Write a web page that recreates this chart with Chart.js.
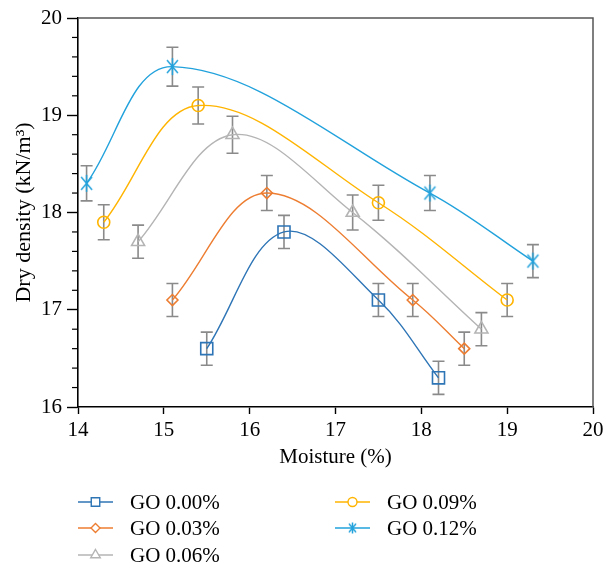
<!DOCTYPE html>
<html>
<head>
<meta charset="utf-8">
<script src="https://cdn.jsdelivr.net/npm/chart.js@4.4.0/dist/chart.umd.min.js"></script>
<style>
  html, body { margin: 0; padding: 0; background: #fff; }
  #wrap { width: 605px; height: 566px; }
</style>
</head>
<body>
<div id="wrap"><canvas id="myChart" width="605" height="566"></canvas></div>
<script>
// Data
const seriesNames = ['GO 0.00%', 'GO 0.03%', 'GO 0.06%', 'GO 0.09%', 'GO 0.12%'];

const moisture000 = [15.5, 16.4, 17.5, 18.2];
const density000  = [16.6, 17.8, 17.1, 16.3];
const error000    = [0.17, 0.17, 0.17, 0.17];

const moisture003 = [15.1, 16.2, 17.9, 18.5];
const density003  = [17.1, 18.2, 17.1, 16.6];
const error003    = [0.17, 0.18, 0.17, 0.17];

const moisture006 = [14.7, 15.8, 17.2, 18.7];
const density006  = [17.7, 18.8, 18.0, 16.8];
const error006    = [0.17, 0.19, 0.18, 0.17];

const moisture009 = [14.3, 15.4, 17.5, 19.0];
const density009  = [17.9, 19.1, 18.1, 17.1];
const error009    = [0.18, 0.19, 0.18, 0.17];

const moisture012 = [14.1, 15.1, 18.1, 19.3];
const density012  = [18.3, 19.5, 18.2, 17.5];
const error012    = [0.18, 0.2, 0.18, 0.17];

const xTicks = [14, 15, 16, 17, 18, 19, 20];
const yTicks = [16, 17, 18, 19, 20];

const FONT = "'Liberation Serif', 'Times New Roman', serif";
const colors = ['#2e75b6', '#ed7d31', '#b4b4b4', '#ffb400', '#22a2dc'];
const errColor = '#8a8a8a';

// asterisk marker (vertical + two diagonals)
function makeStar(r, color) {
    const c = document.createElement('canvas');
    const s = Math.ceil(r * 2 + 4);
    c.width = s; c.height = s;
    const g = c.getContext('2d');
    g.strokeStyle = color;
    g.lineWidth = 1.5;
    const m = s / 2;
    g.beginPath();
    [90, 50, 130].forEach(a => {
        const rad = a * Math.PI / 180;
        const dx = Math.cos(rad) * r, dy = Math.sin(rad) * r;
        g.moveTo(m - dx, m - dy);
        g.lineTo(m + dx, m + dy);
    });
    g.stroke();
    return c;
}

const starBig = makeStar(8.5, colors[4]);
const starSmall = makeStar(5.5, colors[4]);

const pointStyles = ['rect', 'rectRot', 'triangle', 'circle', starBig];
const pointRadii = [8.5, 5.5, 7.5, 6, 8];
const legendStyles = ['rect', 'rectRot', 'triangle', 'circle', starSmall];
const legendRadii = [6, 4.5, 5.5, 4.5, 5.5];

const xs = [moisture000, moisture003, moisture006, moisture009, moisture012];
const ys = [density000, density003, density006, density009, density012];
const errs = [error000, error003, error006, error009, error012];

const datasets = seriesNames.map((name, i) => ({
    label: name,
    data: xs[i].map((x, k) => ({ x: x, y: ys[i][k] })),
    borderColor: colors[i],
    borderWidth: 1.4,
    tension: 0.36,
    fill: false,
    pointStyle: pointStyles[i],
    pointRadius: pointRadii[i],
    pointBorderColor: colors[i],
    pointBackgroundColor: 'rgba(0,0,0,0)',
    pointBorderWidth: 1.6
}));

// tiny marker drawer for the legend
function drawMarker(ctx, style, x, y, r, color) {
    ctx.save();
    ctx.strokeStyle = color;
    ctx.fillStyle = '#fff';
    ctx.lineWidth = 1.4;
    if (style instanceof HTMLCanvasElement) {
        ctx.drawImage(style, x - style.width / 2, y - style.height / 2);
        ctx.restore();
        return;
    }
    ctx.beginPath();
    if (style === 'rect') {
        const s = Math.SQRT1_2 * r;
        ctx.rect(x - s, y - s, 2 * s, 2 * s);
    } else if (style === 'rectRot') {
        ctx.moveTo(x - r, y); ctx.lineTo(x, y - r); ctx.lineTo(x + r, y); ctx.lineTo(x, y + r);
        ctx.closePath();
    } else if (style === 'triangle') {
        ctx.moveTo(x, y - r);
        ctx.lineTo(x + r * 0.866, y + r / 2);
        ctx.lineTo(x - r * 0.866, y + r / 2);
        ctx.closePath();
    } else {
        ctx.arc(x, y, r, 0, Math.PI * 2);
    }
    ctx.fill();
    ctx.stroke();
    ctx.restore();
}

const extras = {
    id: 'extras',
    beforeDatasetsDraw(chart) {
        const ctx = chart.ctx;
        const sx = chart.scales.x, sy = chart.scales.y;
        ctx.save();
        ctx.strokeStyle = errColor;
        ctx.lineWidth = 1.6;
        xs.forEach((arr, i) => {
            arr.forEach((xv, k) => {
                const px = sx.getPixelForValue(xv);
                const top = sy.getPixelForValue(ys[i][k] + errs[i][k]);
                const bot = sy.getPixelForValue(ys[i][k] - errs[i][k]);
                ctx.beginPath();
                ctx.moveTo(px, top); ctx.lineTo(px, bot);
                ctx.moveTo(px - 6, top); ctx.lineTo(px + 6, top);
                ctx.moveTo(px - 6, bot); ctx.lineTo(px + 6, bot);
                ctx.stroke();
            });
        });
        ctx.restore();
    },
    afterDraw(chart) {
        const ctx = chart.ctx;
        const a = chart.chartArea;
        const sy = chart.scales.y;
        ctx.save();
        // top and right frame
        ctx.strokeStyle = '#555';
        ctx.lineWidth = 1.5;
        ctx.beginPath();
        ctx.moveTo(a.left, a.top); ctx.lineTo(a.right, a.top); ctx.lineTo(a.right, a.bottom);
        ctx.stroke();
        // minor ticks on y
        ctx.strokeStyle = '#000';
        ctx.lineWidth = 1.2;
        for (let v = 16.2; v < 20; v += 0.2) {
            if (Math.abs(v - Math.round(v)) < 0.01) continue;
            const py = sy.getPixelForValue(v);
            ctx.beginPath();
            ctx.moveTo(a.left - 6, py); ctx.lineTo(a.left, py);
            ctx.stroke();
        }
        // legend, two columns
        const colX = [78, 335];
        const rowY = [502, 528, 555];
        ctx.font = '21px ' + FONT;
        ctx.textBaseline = 'middle';
        ctx.textAlign = 'left';
        seriesNames.forEach((name, i) => {
            const col = i < 3 ? 0 : 1;
            const row = i < 3 ? i : i - 3;
            const x = colX[col], y = rowY[row];
            ctx.strokeStyle = colors[i];
            ctx.lineWidth = 1.4;
            ctx.beginPath();
            ctx.moveTo(x, y); ctx.lineTo(x + 35, y);
            ctx.stroke();
            drawMarker(ctx, legendStyles[i], x + 17.5, y, legendRadii[i], colors[i]);
            ctx.fillStyle = '#000';
            ctx.fillText(name, x + 52, y + 1);
        });
        ctx.restore();
    }
};

const ctx = document.getElementById('myChart').getContext('2d');
new Chart(ctx, {
    type: 'line',
    data: { datasets: datasets },
    options: {
        responsive: false,
        animation: false,
        events: [],
        layout: { padding: { left: 0, right: 12, top: 18, bottom: 96 } },
        plugins: {
            legend: { display: false },
            tooltip: { enabled: false }
        },
        scales: {
            x: {
                type: 'linear',
                min: xTicks[0],
                max: xTicks[xTicks.length - 1],
                afterBuildTicks(s) { s.ticks = xTicks.map(v => ({ value: v })); },
                ticks: { color: '#000', font: { family: FONT, size: 21 }, padding: 4, maxRotation: 0 },
                grid: { drawOnChartArea: false, drawTicks: true, tickLength: 7, tickColor: '#000', tickWidth: 1.4 },
                border: { color: '#000', width: 1.6 },
                title: { display: true, text: 'Moisture (%)', color: '#000', font: { family: FONT, size: 21 }, padding: { top: 0, bottom: 0 } },
                afterFit(s) { s.height = 63; s.paddingRight = 0; s.paddingLeft = 0; }
            },
            y: {
                type: 'linear',
                min: yTicks[0],
                max: yTicks[yTicks.length - 1],
                afterBuildTicks(s) { s.ticks = yTicks.map(v => ({ value: v })); },
                ticks: { color: '#000', font: { family: FONT, size: 21 }, padding: 5 },
                grid: { drawOnChartArea: false, drawTicks: true, tickLength: 11, tickColor: '#000', tickWidth: 1.4 },
                border: { color: '#000', width: 1.6 },
                title: { display: true, text: 'Dry density (kN/m³)', color: '#000', font: { family: FONT, size: 22 }, padding: { top: 11, bottom: 0 } },
                afterFit(s) { s.width = 78; }
            }
        }
    },
    plugins: [extras]
});
</script>
</body>
</html>
